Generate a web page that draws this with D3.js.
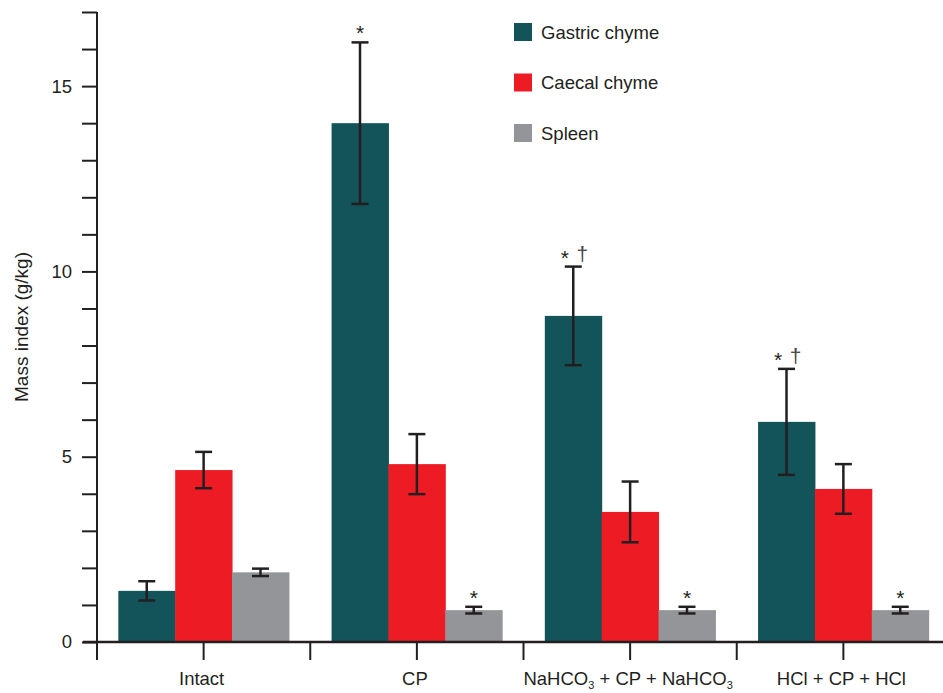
<!DOCTYPE html>
<html lang="en">
<head>
    <meta charset="UTF-8">
    <script src="https://d3js.org/d3.v7.min.js"></script>
    <title>Mass index</title>
    <style>
        body { margin: 0; background: #fff; }
        svg { display: block; font-family: "Liberation Sans", Arial, sans-serif; }
    </style>
</head>
<body>
    <svg id="chart" width="943" height="693"></svg>

    <script>
        // groups on the x axis
        const groups = ["Intact", "CP", "NaHCO3 + CP + NaHCO3", "HCl + CP + HCl"];
        const series = ["Gastric chyme", "Caecal chyme", "Spleen"];

        // mean values per series (g/kg)
        const gastric = [1.38, 14.0, 8.80, 5.94];
        const caecal = [4.64, 4.80, 3.51, 4.13];
        const spleen = [1.88, 0.86, 0.86, 0.86];

        // error bar half-length
        const gastricErr = [0.26, 2.18, 1.33, 1.43];
        const caecalErr = [0.49, 0.81, 0.82, 0.67];
        const spleenErr = [0.10, 0.09, 0.09, 0.09];

        // significance marks drawn over the error bars
        const gastricMarks = ["", "*", "* \u2020", "* \u2020"];
        const caecalMarks = ["", "", "", ""];
        const spleenMarks = ["", "*", "*", "*"];

        const yTicks = d3.range(0, 18);

        const colors = ["#13535a", "#ed1c24", "#939598"];
        const ink = "#231f20";
        const fs = 18.5;

        const values = [gastric, caecal, spleen];
        const errs = [gastricErr, caecalErr, spleenErr];
        const marks = [gastricMarks, caecalMarks, spleenMarks];

        const rows = [];
        groups.forEach((g, gi) => {
            series.forEach((s, si) => {
                rows.push({
                    group: g, series: s, si: si,
                    value: values[si][gi], err: errs[si][gi], mark: marks[si][gi]
                });
            });
        });

        const svg = d3.select("#chart");

        const x0 = d3.scaleBand().domain(groups).range([97, 950]);
        const bw = x0.bandwidth();
        const x1 = d3.scaleBand().domain(series).range([0.1 * bw, 0.9 * bw]);
        const y = d3.scaleLinear().domain([0, 17]).range([642, 12]);
        const cx = d => x0(d.group) + x1(d.series) + x1.bandwidth() / 2;

        // bars
        svg.append("g")
            .selectAll("rect")
            .data(rows)
            .join("rect")
            .attr("x", d => x0(d.group) + x1(d.series))
            .attr("y", d => y(d.value))
            .attr("width", x1.bandwidth() + 0.5)
            .attr("height", d => y(0) - y(d.value))
            .attr("fill", d => colors[d.si]);

        // error bars
        const eb = svg.append("g")
            .attr("stroke", ink)
            .attr("stroke-width", 2.5)
            .selectAll("g")
            .data(rows)
            .join("g")
            .attr("transform", d => `translate(${cx(d)},0)`);

        eb.append("line")
            .attr("y1", d => y(d.value + d.err))
            .attr("y2", d => y(d.value - d.err));
        eb.append("line")
            .attr("x1", -8.5).attr("x2", 8.5)
            .attr("y1", d => y(d.value + d.err))
            .attr("y2", d => y(d.value + d.err));
        eb.append("line")
            .attr("x1", -8.5).attr("x2", 8.5)
            .attr("y1", d => y(d.value - d.err))
            .attr("y2", d => y(d.value - d.err));

        // significance marks: star and dagger placed separately
        const mk = svg.append("g")
            .selectAll("g")
            .data(rows.filter(d => d.mark))
            .join("g")
            .attr("transform", d => `translate(${cx(d)},${y(d.value + d.err)})`);
        mk.each(function (d) {
            const g = d3.select(this);
            const parts = d.mark.split(" ");
            if (parts.length === 1) {
                g.append("text")
                    .attr("y", -2).attr("text-anchor", "middle")
                    .attr("font-size", 21).attr("fill", ink)
                    .text(parts[0]);
            } else {
                g.append("text")
                    .attr("x", -8.5).attr("y", -2).attr("text-anchor", "middle")
                    .attr("font-size", 21).attr("fill", ink)
                    .text(parts[0]);
                g.append("text")
                    .attr("x", 9).attr("y", -6).attr("text-anchor", "middle")
                    .attr("font-size", 21).attr("fill", "#444")
                    .text(parts[1]);
            }
        });

        // y axis
        const yAxis = svg.append("g")
            .attr("transform", "translate(97,0)")
            .call(d3.axisLeft(y)
                .tickValues(yTicks)
                .tickSize(15)
                .tickPadding(10)
                .tickFormat(d => d % 5 === 0 ? d : ""));
        yAxis.select(".domain").remove();
        yAxis.selectAll("line").attr("stroke", ink).attr("stroke-width", 2);
        yAxis.selectAll("text")
            .attr("font-size", 18.5)
            .attr("font-family", "Liberation Sans, Arial, sans-serif")
            .attr("fill", ink);

        svg.append("line")
            .attr("x1", 97).attr("x2", 97)
            .attr("y1", y(17)).attr("y2", y(0) + 13)
            .attr("stroke", ink).attr("stroke-width", 2);

        // x axis
        svg.append("line")
            .attr("x1", 83).attr("x2", 950)
            .attr("y1", y(0)).attr("y2", y(0))
            .attr("stroke", ink).attr("stroke-width", 2.5);

        const xTickPos = [];
        groups.forEach(g => { xTickPos.push(x0(g)); xTickPos.push(x0(g) + bw / 2); });
        svg.append("g")
            .selectAll("line")
            .data(xTickPos)
            .join("line")
            .attr("x1", d => d).attr("x2", d => d)
            .attr("y1", y(0)).attr("y2", y(0) + 18)
            .attr("stroke", ink).attr("stroke-width", 2);

        // x labels, with subscript 3 for the bicarbonate
        const xl = svg.append("g")
            .selectAll("text")
            .data(groups)
            .join("text")
            .attr("x", d => x0(d) + bw / 2 - 2)
            .attr("y", 685)
            .attr("text-anchor", "middle")
            .attr("font-size", fs)
            .attr("fill", ink);
        xl.each(function (d) {
            const t = d3.select(this);
            const parts = d.split("NaHCO3");
            let lowered = false;
            parts.forEach((p, i) => {
                if (p) {
                    const s = t.append("tspan").text(p);
                    if (lowered) { s.attr("dy", -4); lowered = false; }
                }
                if (i < parts.length - 1) {
                    const s = t.append("tspan").text("NaHCO");
                    if (lowered) { s.attr("dy", -4); lowered = false; }
                    t.append("tspan").attr("font-size", 11).attr("dy", 4).text("3");
                    lowered = true;
                }
            });
        });

        // y title
        svg.append("text")
            .attr("transform", `translate(28,${(y(17) + y(0)) / 2}) rotate(-90)`)
            .attr("text-anchor", "middle")
            .attr("font-size", 19)
            .attr("fill", ink)
            .text("Mass index (g/kg)");

        // legend
        const legend = svg.append("g")
            .selectAll("g")
            .data(series)
            .join("g")
            .attr("transform", (d, i) => `translate(514,${23 + i * 50.5})`);
        legend.append("rect")
            .attr("width", 18).attr("height", 18)
            .attr("fill", (d, i) => colors[i]);
        legend.append("text")
            .attr("x", 27).attr("y", 15.5)
            .attr("font-size", fs)
            .attr("fill", ink)
            .text(d => d);
    </script>
</body>
</html>
